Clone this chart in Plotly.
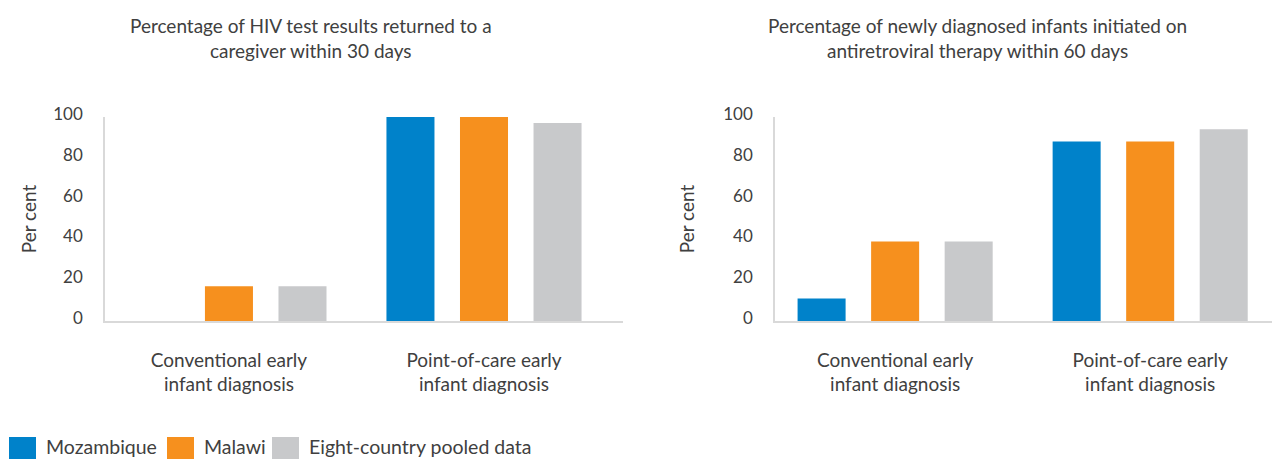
import plotly.graph_objects as go
from plotly.subplots import make_subplots

categories = ["Conventional early<br>infant diagnosis", "Point-of-care early<br>infant diagnosis"]
series_names = ["Mozambique", "Malawi", "Eight-country pooled data"]
series_colors = ["#0082CA", "#F6901E", "#C8C9CB"]

# pannello sinistro: risultati restituiti entro 30 giorni (%)
returned_mozambique = [0, 100]
returned_malawi = [17, 100]
returned_pooled = [17, 97]

# pannello destro: avvio ART entro 60 giorni (%)
art_mozambique = [11, 88]
art_malawi = [39, 88]
art_pooled = [39, 94]

panel_titles = [
    "Percentage of HIV test results returned to a<br>caregiver within 30 days",
    "Percentage of newly diagnosed infants initiated on<br>antiretroviral therapy within 60 days",
]
y_ticks = [0, 20, 40, 60, 80, 100]

FONT = "Lato"
TEXT = "#404040"
AXIS = "#D9D9D9"
W, H = 1280, 459
OFF = 8  # margine di default del <body>: la figura parte a (8, 8) nella pagina


def px_x(x):
    """Coordinata x in pixel della pagina -> frazione paper."""
    return (x - OFF) / W


def px_y(y):
    """Coordinata y in pixel della pagina (dall'alto) -> frazione paper."""
    return 1 - (y - OFF) / H


fig = make_subplots(rows=1, cols=2)

panels = [
    (1, [returned_mozambique, returned_malawi, returned_pooled]),
    (2, [art_mozambique, art_malawi, art_pooled]),
]
for col, values in panels:
    for name, color, v in zip(series_names, series_colors, values):
        fig.add_trace(go.Bar(
            x=categories, y=v, name=name, marker=dict(color=color, line=dict(width=0)),
            showlegend=False,
        ), row=1, col=col)

axis_style = dict(showline=True, linecolor=AXIS, linewidth=1.5, showgrid=False,
                  zeroline=False, automargin=False)
label_font = dict(size=19, color=TEXT, family=FONT)

# domini e range calibrati sul riferimento (1 categoria ~ 255 px)
fig.update_xaxes(ticks="", tickfont=label_font, ticklabelstandoff=21, **axis_style)
fig.update_xaxes(domain=[px_x(105), px_x(623)], range=[-0.486, 1.545], row=1, col=1)
fig.update_xaxes(domain=[px_x(775), px_x(1280)], range=[-0.471, 1.509], row=1, col=2)
fig.update_yaxes(
    range=[0, 100], tickvals=y_ticks, ticks="", ticklabelstandoff=17, ticklabelshift=-3,
    tickfont=dict(size=17, color=TEXT, family=FONT),
    domain=[px_y(321), px_y(117)],
    **axis_style,
)
fig.update_yaxes(title=dict(text="Per cent", font=label_font, standoff=12), row=1, col=1)
fig.update_yaxes(title=dict(text="Per cent", font=label_font, standoff=24), row=1, col=2)

annotations = []
for title, xc in zip(panel_titles, [311, 977]):
    annotations.append(dict(
        text=title, x=px_x(xc), y=px_y(12), xref="paper", yref="paper",
        xanchor="center", yanchor="top", showarrow=False,
        font=label_font,
    ))

# legenda disegnata a mano: quadrati 27 px come nel riferimento
shapes = []
for name, color, x0 in zip(series_names, series_colors, [9, 167, 272]):
    shapes.append(dict(
        type="rect", xref="paper", yref="paper",
        x0=px_x(x0), x1=px_x(x0 + 27), y0=px_y(464), y1=px_y(437),
        fillcolor=color, line=dict(width=0),
    ))
    annotations.append(dict(
        text=name, x=px_x(x0 + 35), y=px_y(446), xref="paper", yref="paper",
        xanchor="left", yanchor="middle", showarrow=False,
        font=dict(size=19.5, color=TEXT, family=FONT),
    ))

fig.update_layout(
    width=W, height=H,
    margin=dict(l=0, r=0, t=0, b=0),
    plot_bgcolor="white", paper_bgcolor="white",
    barmode="group", bargap=0.135, bargroupgap=0.347,
    showlegend=False,
    annotations=annotations, shapes=shapes,
    font=dict(family=FONT, color=TEXT),
)

fig.write_html("out.html")
